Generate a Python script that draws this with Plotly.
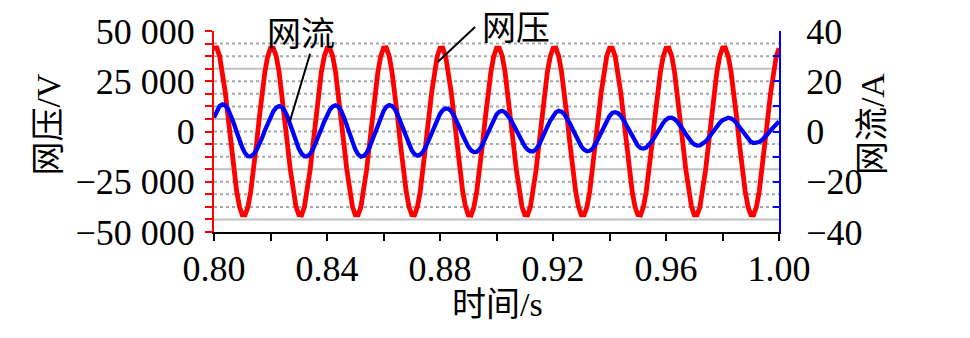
import plotly.graph_objects as go

# Sampling instants (s), 1 ms apart from 0.800 to 1.000
t = [round(0.800 + 0.001 * k, 3) for k in range(201)]

# Grid voltage (V), one row per 20 ms cycle
grid_voltage = [
    41400, 41600, 37500, 29800, 19400, 6900, -6200, -18900, -29500, -37300,
    -41500, -41500, -37600, -29800, -19300, -6800, 6300, 18700, 29600, 37300,
    41500, 41500, 37600, 30000, 19300, 6800, -6300, -18800, -29400, -37200,
    -41400, -41600, -37500, -29900, -19400, -6900, 6200, 18800, 29500, 37200,
    41400, 41500, 37500, 29900, 19300, 6900, -6300, -18700, -29500, -37300,
    -41500, -41500, -37600, -29900, -19300, -6900, 6300, 18800, 29400, 37300,
    41500, 41600, 37600, 29800, 19400, 6800, -6200, -18800, -29500, -37300,
    -41400, -41500, -37500, -30000, -19300, -6800, 6300, 18900, 29500, 37300,
    41400, 41500, 37500, 29900, 19300, 6900, -6300, -18800, -29500, -37200,
    -41500, -41600, -37600, -29800, -19400, -6900, 6200, 18800, 29500, 37300,
    41500, 41500, 37600, 29900, 19300, 6900, -6300, -18800, -29400, -37300,
    -41400, -41500, -37500, -29900, -19300, -6800, 6300, 18700, 29500, 37200,
    41400, 41600, 37500, 29900, 19400, 6800, -6200, -18800, -29500, -37300,
    -41500, -41500, -37600, -29900, -19300, -6900, 6300, 18800, 29500, 37300,
    41500, 41500, 37500, 29800, 19300, 6900, -6300, -18900, -29500, -37300,
    -41400, -41600, -37500, -29900, -19400, -6800, 6200, 18800, 29400, 37300,
    41400, 41500, 37600, 29900, 19300, 6800, -6300, -18800, -29500, -37200,
    -41500, -41500, -37600, -29800, -19300, -6900, 6300, 18800, 29500, 37300,
    41500, 41600, 37500, 29900, 19400, 6900, -6200, -18800, -29400, -37300,
    -41400, -41500, -37500, -29900, -19300, -6900, 6300, 18900, 29500, 37200,
    41400,
]

# Grid current (A)
grid_current = [
    5.6, 8.3, 10.1, 10.8, 10.4, 8.8, 6.4, 3.3, -0.1, -3.5,
    -6.4, -8.6, -9.8, -9.9, -9.1, -7.5, -5.3, -2.6, 0.4, 3.3,
    5.9, 8.0, 9.5, 10.1, 9.7, 8.3, 5.9, 2.8, -0.6, -3.9,
    -6.8, -8.8, -9.9, -9.9, -8.9, -7.2, -4.8, -2.0, 1.0, 3.9,
    6.5, 8.6, 9.9, 10.4, 9.9, 8.2, 5.7, 2.5, -1.0, -4.3,
    -7.1, -9.1, -10.0, -9.7, -8.5, -6.4, -3.6, -0.5, 2.7, 5.7,
    8.1, 9.8, 10.5, 10.2, 8.9, 6.7, 4.0, 0.9, -2.3, -5.1,
    -7.5, -9.0, -9.6, -9.2, -8.0, -6.1, -3.6, -0.7, 2.1, 4.8,
    7.0, 8.5, 9.2, 9.0, 8.0, 6.2, 4.0, 1.3, -1.4, -3.9,
    -6.0, -7.5, -8.2, -8.1, -7.1, -5.3, -2.9, -0.2, 2.5, 4.9,
    6.8, 7.9, 8.2, 7.7, 6.5, 4.8, 2.7, 0.4, -2.0, -4.1,
    -5.9, -7.2, -7.9, -7.9, -7.0, -5.5, -3.3, -0.7, 1.9, 4.3,
    6.3, 7.6, 8.2, 7.9, 6.9, 5.3, 3.2, 0.8, -1.7, -4.0,
    -5.9, -7.2, -7.9, -7.7, -6.8, -5.1, -2.9, -0.4, 2.1, 4.4,
    6.2, 7.4, 7.7, 7.3, 6.2, 4.5, 2.4, 0.1, -2.1, -4.1,
    -5.6, -6.6, -6.8, -6.4, -5.4, -3.9, -2.1, -0.1, 1.8, 3.4,
    4.7, 5.4, 5.5, 5.0, 3.9, 2.5, 0.8, -1.0, -2.7, -4.1,
    -5.1, -5.6, -5.5, -4.9, -4.0, -2.7, -1.1, 0.5, 2.1, 3.4,
    4.5, 5.2, 5.5, 5.2, 4.5, 3.2, 1.7, 0.0, -1.6, -3.0,
    -4.1, -4.6, -4.6, -4.2, -3.4, -2.4, -1.0, 0.4, 1.8, 3.0, 4.0,
]

# Axis ticks and labels
time_ticks = [0.80, 0.84, 0.88, 0.92, 0.96, 1.00]
time_labels = ["0.80", "0.84", "0.88", "0.92", "0.96", "1.00"]
voltage_ticks = [-50000, -25000, 0, 25000, 50000]
voltage_labels = ["\u221250 000", "\u221225 000", "0", "25 000", "50 000"]
current_ticks = [-40, -20, 0, 20, 40]
current_labels = ["\u221240", "\u221220", "0", "20", "40"]

SERIF = "Liberation Serif, Noto Sans CJK SC, serif"
CJK = "Noto Sans CJK SC, Liberation Serif, sans-serif"
FS = 36

fig = go.Figure()
fig.add_trace(go.Scatter(x=t, y=grid_voltage, mode="lines", name="网压",
                         line=dict(color="#ff0000", width=4.8), yaxis="y"))
fig.add_trace(go.Scatter(x=t, y=grid_current, mode="lines", name="网流",
                         line=dict(color="#0000ff", width=4.3), yaxis="y2"))

# Horizontal reference grid every 6 250 V
shapes = []
for k in range(-7, 8):
    v = k * 6250
    solid = (k % 4 == 1)
    shapes.append(dict(type="line", xref="paper", yref="y", x0=0, x1=1, y0=v, y1=v,
                       layer="below",
                       line=dict(color="#c0c0c0" if solid else "#a8a8a8", width=2,
                                 dash="solid" if solid else "dot")))

# Leader lines for the curve labels
shapes.append(dict(type="line", xref="paper", yref="paper",
                   x0=0.1345, y0=0.552, x1=0.170, y1=0.887,
                   line=dict(color="black", width=2)))
shapes.append(dict(type="line", xref="paper", yref="paper",
                   x0=0.3965, y0=0.847, x1=0.462, y1=1.020,
                   line=dict(color="black", width=2)))


def label(text, x, y, font, angle=0):
    return dict(text=text, xref="paper", yref="paper", x=x, y=y,
                xanchor="center", yanchor="middle", textangle=angle,
                showarrow=False, font=dict(family=font, size=FS - 2, color="black"))


annotations = [
    label("网流", 0.154, 1.0, CJK),
    label("网压", 0.5345, 1.025, CJK),
    label("网压/V", -0.292, 0.5345, SERIF, -90),
    label("网流/A", 1.1655, 0.5345, SERIF, -90),
    label("时间/s", 0.5018, -0.36, SERIF),
]

fig.update_layout(
    width=970, height=338,
    margin=dict(l=214, r=191, t=29, b=106, pad=0),
    paper_bgcolor="white", plot_bgcolor="white",
    showlegend=False,
    font=dict(family=SERIF, size=FS, color="black"),
    shapes=shapes,
    annotations=annotations,
    xaxis=dict(
        range=[0.80, 1.00], showgrid=False, zeroline=False,
        showline=True, linecolor="black", linewidth=2,
        tickmode="array", tickvals=time_ticks, ticktext=time_labels,
        ticks="outside", ticklen=7, tickwidth=2, tickcolor="black",
        minor=dict(tickmode="linear", tick0=0.80, dtick=0.02, ticks="outside",
                   ticklen=7, tickwidth=2, tickcolor="black", showgrid=False),
        tickfont=dict(family=SERIF, size=FS),
        ticklabelstandoff=-3,
    ),
    yaxis=dict(
        range=[-50000, 50000], showgrid=False, zeroline=False,
        showline=True, linecolor="#ff0000", linewidth=2,
        tickmode="array", tickvals=voltage_ticks, ticktext=voltage_labels,
        ticks="outside", ticklen=7, tickwidth=2, tickcolor="#ff0000",
        minor=dict(tickmode="linear", tick0=0, dtick=6250, ticks="outside",
                   ticklen=7, tickwidth=2, tickcolor="#ff0000", showgrid=False),
        tickfont=dict(family=SERIF, size=FS),
        ticklabelstandoff=3,
    ),
    yaxis2=dict(
        range=[-40, 40], overlaying="y", side="right",
        showgrid=False, zeroline=False,
        showline=True, linecolor="#0000ff", linewidth=2,
        tickmode="array", tickvals=current_ticks, ticktext=current_labels,
        ticks="inside", ticklen=6, tickwidth=2, tickcolor="#0000ff",
        minor=dict(tickmode="linear", tick0=0, dtick=10, ticks="inside",
                   ticklen=6, tickwidth=2, tickcolor="#0000ff", showgrid=False),
        tickfont=dict(family=SERIF, size=FS),
        ticklabelstandoff=18,
    ),
)

fig.write_html("out.html")
